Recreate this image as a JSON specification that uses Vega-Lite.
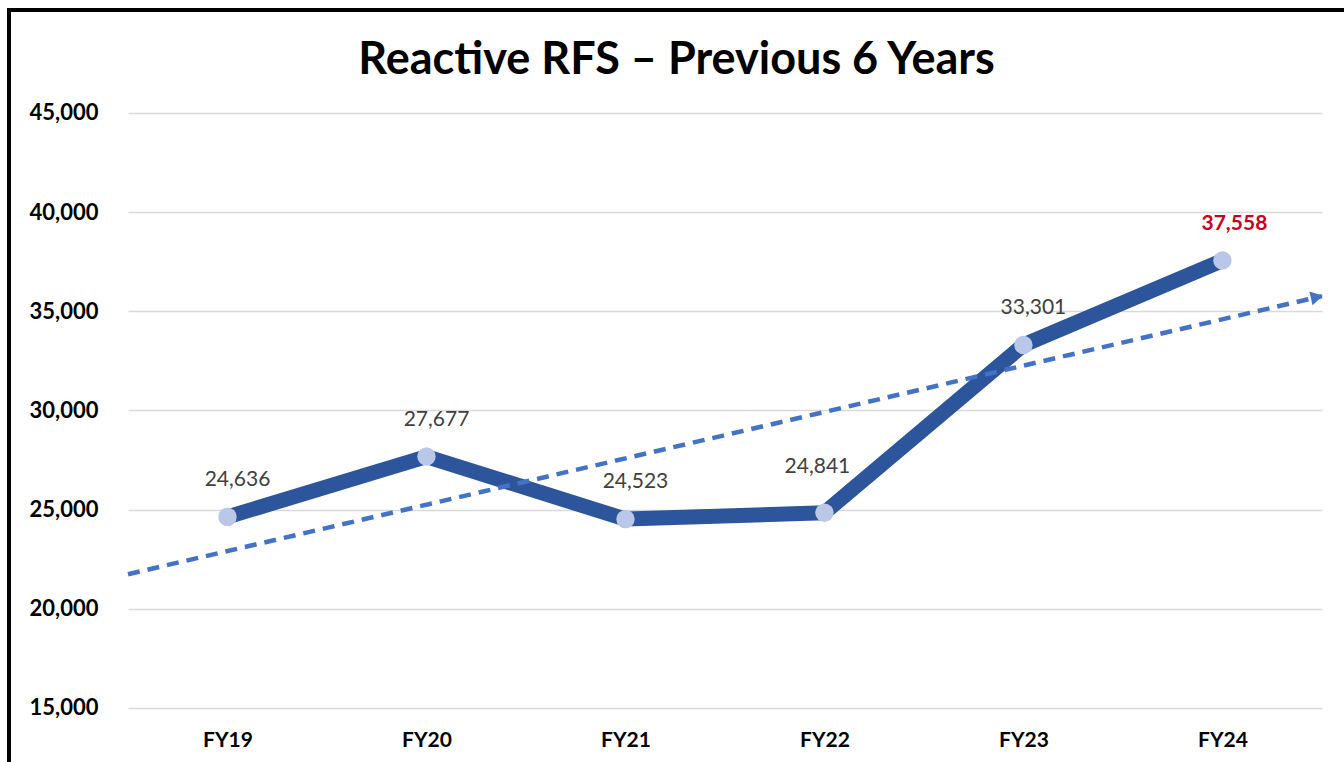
{
  "$schema": "https://vega.github.io/schema/vega-lite/v6.json",
  "width": 1335,
  "height": 752,
  "autosize": {"type": "none"},
  "padding": {"left": 9, "top": 10, "right": 0, "bottom": 0},
  "background": "white",
  "title": {
    "text": "Reactive RFS – Previous 6 Years",
    "font": "Lato",
    "fontSize": 45,
    "fontWeight": "bold",
    "color": "black",
    "anchor": "middle",
    "frame": "group",
    "baseline": "alphabetic",
    "offset": -109
  },
  "config": {
    "font": "Lato",
    "view": {
      "stroke": "black",
      "strokeWidth": 4,
      "strokeDash": [1335, 2087, 752, 0],
      "strokeCap": "square"
    }
  },
  "data": {
    "values": [
      {"year": "FY19", "i": 1, "v": 24636},
      {"year": "FY20", "i": 2, "v": 27677},
      {"year": "FY21", "i": 3, "v": 24523},
      {"year": "FY22", "i": 4, "v": 24841},
      {"year": "FY23", "i": 5, "v": 33301},
      {"year": "FY24", "i": 6, "v": 37558}
    ]
  },
  "encoding": {
    "x": {
      "field": "i",
      "type": "quantitative",
      "scale": {"domain": [-0.098, 6.611], "nice": false, "zero": false},
      "axis": {
        "values": [1, 2, 3, 4, 5, 6],
        "labelExpr": "['FY19','FY20','FY21','FY22','FY23','FY24'][datum.value - 1]",
        "title": null,
        "domain": false,
        "ticks": false,
        "tickSize": 0,
        "grid": false,
        "labelPadding": -22,
        "labelBaseline": "middle",
        "labelFont": "Lato",
        "labelFontSize": 21,
        "labelFontWeight": "bold",
        "labelColor": "black",
        "labelFlush": false,
        "labelOverlap": false
      }
    },
    "y": {
      "field": "v",
      "type": "quantitative",
      "scale": {"domain": [12277, 50193], "nice": false, "zero": false},
      "axis": {
        "values": [15000, 20000, 25000, 30000, 35000, 40000, 45000],
        "format": ",d",
        "title": null,
        "domain": false,
        "ticks": false,
        "tickSize": 0,
        "grid": true,
        "gridColor": "#D9D9D9",
        "gridWidth": 1.3,
        "gridDash": [0, 119, 1194, 300],
        "labelPadding": -89,
        "labelAlign": "right",
        "labelBaseline": "middle",
        "labelFont": "Lato",
        "labelFontSize": 22,
        "labelFontWeight": "bold",
        "labelColor": "black",
        "labelOverlap": false
      }
    }
  },
  "layer": [
    {
      "mark": {"type": "line", "color": "#2D559C", "strokeWidth": 15, "strokeCap": "round", "strokeJoin": "round"}
    },
    {
      "mark": {"type": "point", "filled": true, "color": "#B9C8E8", "size": 340, "opacity": 1}
    },
    {
      "transform": [{"regression": "v", "on": "i", "extent": [0.5, 6.5]}],
      "mark": {"type": "line", "color": "#4472C4", "strokeWidth": 4.5, "strokeDash": [12, 8]}
    },
    {
      "transform": [
        {"regression": "v", "on": "i", "extent": [0.5, 6.5]},
        {"filter": "datum.i >= 6.5"}
      ],
      "mark": {"type": "point", "shape": "triangle-right", "filled": true, "color": "#4472C4", "size": 200, "angle": 347, "opacity": 1, "xOffset": -5, "yOffset": 1}
    },
    {
      "transform": [{"filter": "datum.year !== 'FY24' && datum.year !== 'FY22'"}],
      "mark": {"type": "text", "font": "Lato", "fontSize": 21, "color": "#404040", "dx": 10, "dy": -37, "baseline": "middle"},
      "encoding": {"text": {"field": "v", "type": "quantitative", "format": ",d"}}
    },
    {
      "transform": [{"filter": "datum.year === 'FY22'"}],
      "mark": {"type": "text", "font": "Lato", "fontSize": 21, "color": "#404040", "dx": -7, "dy": -46, "baseline": "middle"},
      "encoding": {"text": {"field": "v", "type": "quantitative", "format": ",d"}}
    },
    {
      "transform": [{"filter": "datum.year === 'FY24'"}],
      "mark": {"type": "text", "font": "Lato", "fontSize": 21, "fontWeight": "bold", "color": "#C8001E", "dx": 12, "dy": -37, "baseline": "middle"},
      "encoding": {"text": {"field": "v", "type": "quantitative", "format": ",d"}}
    }
  ]
}
